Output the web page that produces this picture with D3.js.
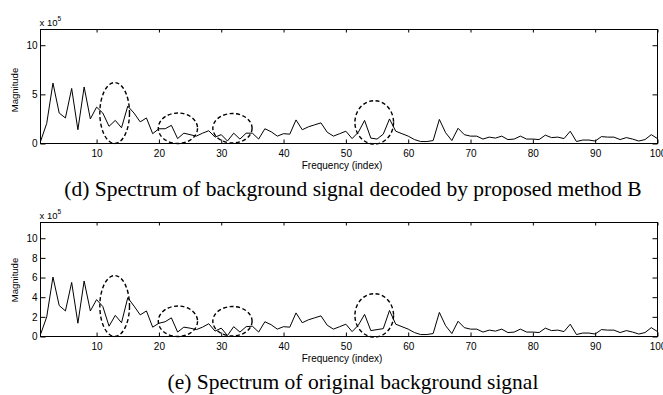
<!DOCTYPE html>
<html>
<head>
<meta charset="utf-8">
<script src="https://cdn.jsdelivr.net/npm/d3@7/dist/d3.min.js"></script>
<style>
  body { margin: 0; background: #fff; }
  svg { display: block; }
  .axis text { font-family: "Liberation Sans", Arial, sans-serif; font-size: 10px; fill: #000; }
  .axis line { stroke: #000; }
</style>
</head>
<body>
<figure id="spectrum" style="margin:0"></figure>
<script>
// frequency bins 1..100
const freqIndex = d3.range(1, 101);

// magnitudes in units of 1e5
const decodedMagnitude = [
  0.2, 2.05, 6.15, 3.1, 2.6, 5.6, 1.4, 5.75, 2.5, 3.7,
  3.1, 1.75, 2.35, 1.6, 3.8, 3.1, 2.2, 2.6, 1.0, 1.5,
  1.5, 1.85, 0.5, 1.05, 0.9, 0.75, 1.05, 1.3, 0.65, 0.9,
  0.25, 1.05, 0.45, 1.05, 1.05, 0.45, 1.5, 1.2, 0.75, 1.0,
  0.95, 2.4, 1.4, 1.7, 1.9, 2.1, 1.15, 0.75, 1.0, 1.25,
  0.5, 1.15, 2.35, 0.55, 0.45, 0.95, 2.5, 1.25, 1.0, 0.75,
  0.4, 0.2, 0.2, 0.3, 2.45, 1.1, 0.3, 1.55, 0.9, 0.75,
  0.75, 0.45, 0.65, 0.55, 0.75, 0.4, 0.45, 0.75, 0.45, 0.45,
  0.4, 0.85, 0.6, 0.65, 0.5, 1.25, 0.2, 0.35, 0.35, 0.25,
  0.7, 0.65, 0.65, 0.4, 0.6, 0.45, 0.25, 0.4, 0.9, 0.5
];
const originalMagnitude = [
  0.2, 2.0, 6.05, 3.15, 2.6, 5.5, 1.35, 5.65, 2.6, 3.75,
  3.05, 1.05, 2.15, 1.4, 3.95, 3.1, 2.2, 2.6, 0.95, 1.35,
  1.5, 1.9, 0.45, 0.95, 0.85, 0.7, 0.95, 1.3, 0.55, 0.85,
  0.1, 1.0, 0.45, 1.0, 1.05, 0.45, 1.5, 1.2, 0.75, 1.0,
  0.95, 2.4, 1.4, 1.7, 1.9, 2.1, 1.15, 0.75, 1.0, 1.25,
  0.5, 1.15, 2.25, 0.6, 0.7, 0.8, 2.65, 1.25, 1.0, 0.75,
  0.4, 0.2, 0.2, 0.3, 2.45, 1.1, 0.3, 1.55, 0.9, 0.75,
  0.75, 0.45, 0.65, 0.55, 0.75, 0.4, 0.45, 0.75, 0.45, 0.45,
  0.4, 0.85, 0.6, 0.65, 0.5, 1.25, 0.2, 0.35, 0.35, 0.25,
  0.7, 0.65, 0.65, 0.4, 0.6, 0.45, 0.25, 0.4, 0.9, 0.5
];

const xTickValues = [10, 20, 30, 40, 50, 60, 70, 80, 90, 100];
const topYTicks = [0, 5, 10];
const bottomYTicks = [0, 2, 4, 6, 8, 10];
const captions = [
  "(d) Spectrum of background signal decoded by proposed method B",
  "(e) Spectrum of original background signal"
];

// dashed circles marking regions (data coords: index, magnitude)
const circleIndex = [12.9, 23.05, 31.8, 54.55];
const circleMagnitude = [3.1, 1.55, 1.55, 2.15];
const circleHalfWidth = [2.38, 3.15, 3.15, 3.1];
const circleHalfHeight = [3.1, 1.55, 1.5, 2.21];

const width = 663, height = 395;
const left = 40.5, right = 657.5;
const yMax = 11.6;

const svg = d3.select("figure#spectrum")
  .append("svg")
  .attr("width", width)
  .attr("height", height);

const x = d3.scaleLinear().domain([1, 100]).range([left, right]);

function drawPanel(top, bottom, values, yTicks, caption, ylabelY) {
  const y = d3.scaleLinear().domain([0, yMax]).range([bottom, top]);
  const g = svg.append("g");

  // box
  g.append("rect")
    .attr("x", left).attr("y", top)
    .attr("width", right - left).attr("height", bottom - top)
    .attr("fill", "none").attr("stroke", "#000").attr("stroke-width", 1);

  // bottom axis with labels, ticks pointing inwards
  g.append("g").attr("class", "axis")
    .attr("transform", "translate(0," + bottom + ")")
    .call(d3.axisBottom(x).tickValues(xTickValues).tickSizeInner(-4).tickSizeOuter(0).tickPadding(6))
    .call(a => a.select(".domain").remove());

  // top ticks only
  g.append("g").attr("class", "axis")
    .attr("transform", "translate(0," + top + ")")
    .call(d3.axisTop(x).tickValues(xTickValues).tickSizeInner(-3).tickSizeOuter(0).tickFormat(""))
    .call(a => a.select(".domain").remove());

  // left axis
  g.append("g").attr("class", "axis")
    .attr("transform", "translate(" + left + ",0)")
    .call(d3.axisLeft(y).tickValues(yTicks).tickSizeInner(-5).tickSizeOuter(0).tickPadding(3))
    .call(a => a.select(".domain").remove());

  // right ticks only
  g.append("g").attr("class", "axis")
    .attr("transform", "translate(" + right + ",0)")
    .call(d3.axisRight(y).tickValues(yTicks).tickSizeInner(-5).tickSizeOuter(0).tickFormat(""))
    .call(a => a.select(".domain").remove());

  // spectrum line
  const line = d3.line()
    .x((d, i) => x(freqIndex[i]))
    .y(d => y(d));
  g.append("path")
    .datum(values)
    .attr("d", line)
    .attr("fill", "none")
    .attr("stroke", "#000")
    .attr("stroke-width", 1);

  // dashed ellipses
  g.selectAll("ellipse")
    .data(circleIndex)
    .enter()
    .append("ellipse")
    .attr("cx", d => x(d))
    .attr("cy", (d, i) => y(circleMagnitude[i]))
    .attr("rx", (d, i) => x(d + circleHalfWidth[i]) - x(d))
    .attr("ry", (d, i) => y(0) - y(circleHalfHeight[i]))
    .attr("fill", "none")
    .attr("stroke", "#000")
    .attr("stroke-width", 1.4)
    .attr("stroke-dasharray", "4,2.5");

  // exponent label
  const ex = g.append("text")
    .attr("x", left - 1)
    .attr("y", top - 4)
    .style("font-family", "Liberation Sans, Arial, sans-serif")
    .style("font-size", "9.5px")
    .text("x 10");
  ex.append("tspan")
    .attr("dy", -5)
    .style("font-size", "6.5px")
    .text("5");

  // y label
  g.append("text")
    .attr("transform", "translate(15," + ylabelY + ")rotate(-90)")
    .attr("text-anchor", "middle")
    .attr("dominant-baseline", "middle")
    .style("font-family", "Liberation Sans, Arial, sans-serif")
    .style("font-size", "9.5px")
    .text("Magnitude");

  // x label
  g.append("text")
    .attr("x", 342)
    .attr("y", bottom + 25)
    .attr("text-anchor", "middle")
    .style("font-family", "Liberation Sans, Arial, sans-serif")
    .style("font-size", "10px")
    .text("Frequency (index)");

  // caption
  g.append("text")
    .attr("x", 353)
    .attr("y", bottom + 52)
    .attr("text-anchor", "middle")
    .style("font-family", "Liberation Serif, 'Times New Roman', serif")
    .style("font-size", "21.5px")
    .text(caption);
}

drawPanel(29.5, 143.5, decodedMagnitude, topYTicks, captions[0], 90);
drawPanel(222.5, 336.5, originalMagnitude, bottomYTicks, captions[1], 280);
</script>
</body>
</html>
